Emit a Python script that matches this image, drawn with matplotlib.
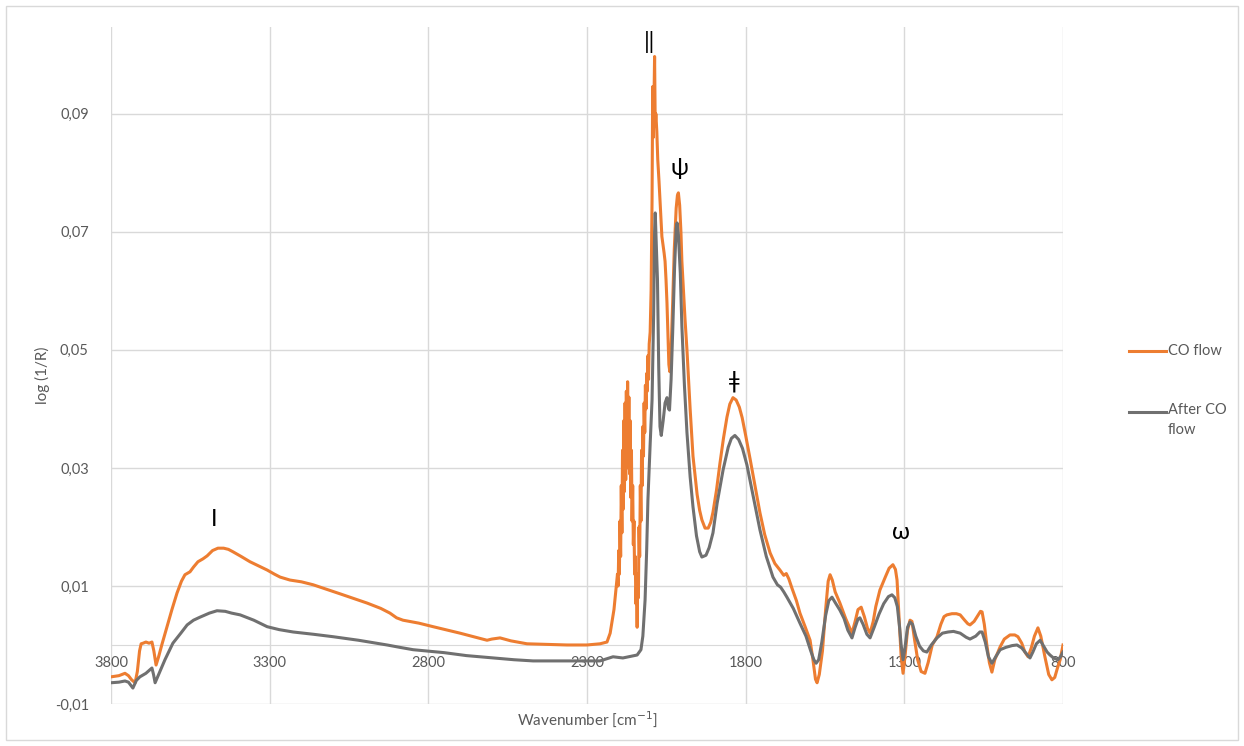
import matplotlib.pyplot as plt
from matplotlib.lines import Line2D
from matplotlib.patches import Rectangle
from matplotlib.ticker import FuncFormatter

plt.rcParams['font.family'] = ['Lato', 'DejaVu Sans']

# CO flow spectrum
wn_co = [3800, 3775, 3756, 3745, 3735, 3724, 3717, 3710, 3705, 3699, 3690, 3680, 3671,
         3665, 3658, 3650, 3640, 3624, 3608, 3592, 3578, 3567, 3551, 3540, 3526, 3510,
         3497, 3480, 3463, 3445, 3430, 3416, 3390, 3362, 3335, 3308, 3285, 3267, 3236,
         3200, 3163, 3080, 2993, 2950, 2921, 2900, 2880, 2830, 2785, 2700, 2615, 2600,
         2574, 2540, 2489, 2420, 2363, 2300, 2259, 2237, 2227, 2215,
         # gas phase CO rotational band
         2204, 2202, 2200, 2198, 2196, 2194, 2192, 2190, 2188, 2186, 2184, 2182, 2180,
         2178, 2176, 2174, 2172, 2170, 2168, 2166, 2164, 2162, 2160, 2158, 2156, 2154,
         2152, 2150, 2148, 2146, 2144, 2142, 2140, 2138, 2136, 2134, 2132, 2130, 2128,
         2126, 2124, 2122, 2120, 2118, 2116, 2114, 2112, 2110, 2108, 2106, 2104, 2101,
         2098, 2095, 2093, 2091, 2089, 2087, 2085, 2083, 2080, 2077, 2073, 2070, 2067,
         2064, 2061, 2057, 2054, 2051, 2048, 2045, 2042, 2039, 2035, 2030, 2025, 2019,
         2015, 2012, 2008, 2004, 2001, 1996, 1991, 1985, 1975, 1966, 1953, 1945, 1938,
         1928, 1918, 1910, 1903, 1892, 1881, 1870, 1859, 1850, 1840, 1830, 1820, 1811,
         1800, 1786, 1770, 1755, 1740, 1723, 1708, 1692, 1680, 1672, 1664, 1654, 1640,
         1629, 1612, 1597, 1588, 1580, 1575, 1568, 1558, 1548, 1540, 1534, 1527, 1518,
         1503, 1485, 1465, 1455, 1446, 1436, 1426, 1416, 1408, 1398, 1390, 1377, 1360,
         1348, 1336, 1328, 1323, 1316, 1310, 1304, 1298, 1290, 1282, 1276, 1268, 1258,
         1247, 1235, 1225, 1212, 1197, 1185, 1175, 1166, 1150, 1136, 1124, 1110, 1100,
         1093, 1080, 1068, 1060, 1055, 1048, 1040, 1032, 1024, 1015, 998, 985, 967, 952,
         942, 930, 920, 910, 900, 890, 879, 870, 857, 845, 835, 826, 818, 809, 800]
co_flow = [-0.0054, -0.0052, -0.0048, -0.0052, -0.0059, -0.0064, -0.0045, -0.0010, 0.0002,
           0.0003, 0.0005, 0.0003, 0.0005, -0.0010, -0.0034, -0.0020, 0.0000, 0.0030,
           0.0060, 0.0088, 0.0108, 0.0119, 0.0124, 0.0132, 0.0141, 0.0146, 0.0151, 0.0160,
           0.0164, 0.0164, 0.0162, 0.0158, 0.0150, 0.0141, 0.0134, 0.0127, 0.0120, 0.0115,
           0.0110, 0.0107, 0.0102, 0.0087, 0.0071, 0.0062, 0.0054, 0.0046, 0.0042, 0.0037,
           0.0031, 0.0020, 0.0008, 0.0010, 0.0012, 0.0007, 0.0002, 0.0001, 0.0000, 0.0000,
           0.0002, 0.0005, 0.0020, 0.0060,
           0.0120, 0.0100, 0.0160, 0.0120, 0.0210, 0.0150, 0.0270, 0.0190, 0.0330, 0.0230,
           0.0380, 0.0260, 0.0410, 0.0280, 0.0430, 0.0300, 0.0446, 0.0310, 0.0420, 0.0290,
           0.0380, 0.0250, 0.0330, 0.0210, 0.0270, 0.0170, 0.0210, 0.0120, 0.0150, 0.0070,
           0.0100, 0.0030, 0.0120, 0.0080, 0.0200, 0.0150, 0.0270, 0.0210, 0.0330, 0.0270,
           0.0370, 0.0320, 0.0410, 0.0360, 0.0440, 0.0400, 0.0460, 0.0430, 0.0490, 0.0450,
           0.0510, 0.0530,
           0.0600, 0.0754, 0.0946, 0.0860, 0.0920, 0.0997, 0.0880, 0.0900, 0.0870, 0.0822,
           0.0785, 0.0754, 0.0720, 0.0692, 0.0680, 0.0664, 0.0650, 0.0619, 0.0580, 0.0529,
           0.0475, 0.0463, 0.0500, 0.0580, 0.0670, 0.0740, 0.0762, 0.0766, 0.0745, 0.0700,
           0.0650, 0.0600, 0.0551, 0.0500, 0.0400, 0.0320, 0.0255, 0.0228, 0.0212, 0.0198,
           0.0198, 0.0208, 0.0225, 0.0262, 0.0308, 0.0350, 0.0386, 0.0408, 0.0419, 0.0415,
           0.0403, 0.0385, 0.0355, 0.0315, 0.0268, 0.0224, 0.0187, 0.0156, 0.0138, 0.0127,
           0.0118, 0.0121, 0.0112, 0.0096, 0.0075, 0.0054, 0.0030, 0.0008, -0.0025, -0.0058,
           -0.0064, -0.0050, -0.0010, 0.0060, 0.0108, 0.0119, 0.0110, 0.0090, 0.0071,
           0.0045, 0.0020, 0.0040, 0.0060, 0.0064, 0.0048, 0.0028, 0.0020, 0.0040, 0.0065,
           0.0093, 0.0115, 0.0130, 0.0136, 0.0128, 0.0110, 0.0040, -0.0020, -0.0048,
           -0.0020, 0.0025, 0.0042, 0.0040, 0.0010, -0.0025, -0.0045, -0.0048, -0.0030,
           0.0000, 0.0014, 0.0035, 0.0048, 0.0051, 0.0053, 0.0053, 0.0051, 0.0042, 0.0036,
           0.0034, 0.0040, 0.0050, 0.0057, 0.0056, 0.0035, 0.0000, -0.0030, -0.0046,
           -0.0025, -0.0003, 0.0010, 0.0017, 0.0017, 0.0014, 0.0003, -0.0012, -0.0020,
           -0.0005, 0.0015, 0.0029, 0.0015, -0.0020, -0.0050, -0.0059, -0.0055, -0.0040,
           -0.0025, 0.0000]

# After CO flow spectrum
wn_after = [3800, 3775, 3756, 3745, 3731, 3720, 3709, 3690, 3671, 3666, 3661, 3650, 3630,
            3605, 3580, 3560, 3540, 3520, 3490, 3466, 3440, 3420, 3393, 3350, 3308, 3270,
            3226, 3160, 3100, 3020, 2930, 2890, 2848, 2750, 2680, 2596, 2530, 2470, 2259,
            2218, 2187, 2142, 2130, 2124, 2117, 2112, 2108, 2101, 2095, 2090, 2087, 2085,
            2083, 2078, 2074, 2070, 2066, 2060, 2054, 2048, 2043, 2040, 2035, 2030, 2024,
            2019, 2016, 2012, 2006, 2001, 1993, 1985, 1975, 1966, 1955, 1945, 1938, 1925,
            1915, 1903, 1890, 1871, 1855, 1845, 1834, 1822, 1810, 1796, 1780, 1765, 1755,
            1735, 1714, 1700, 1690, 1680, 1670, 1650, 1629, 1610, 1595, 1585, 1578, 1570,
            1560, 1548, 1538, 1528, 1518, 1503, 1490, 1478, 1465, 1455, 1446, 1440, 1430,
            1418, 1408, 1395, 1380, 1365, 1350, 1339, 1330, 1322, 1315, 1310, 1304, 1298,
            1290, 1282, 1274, 1264, 1252, 1240, 1229, 1215, 1197, 1180, 1162, 1145, 1124,
            1105, 1093, 1075, 1062, 1055, 1045, 1035, 1024, 1012, 998, 980, 960, 945, 930,
            915, 904, 895, 884, 872, 860, 850, 841, 830, 816, 808, 800]
after_co = [-0.0064, -0.0063, -0.0061, -0.0063, -0.0073, -0.0060, -0.0054, -0.0048,
            -0.0039, -0.0050, -0.0064, -0.0050, -0.0025, 0.0003, 0.0020, 0.0034, 0.0042,
            0.0047, 0.0054, 0.0058, 0.0057, 0.0054, 0.0051, 0.0042, 0.0031, 0.0026, 0.0022,
            0.0018, 0.0014, 0.0008, 0.0000, -0.0004, -0.0008, -0.0013, -0.0018, -0.0022,
            -0.0025, -0.0027, -0.0027, -0.0020, -0.0022, -0.0017, -0.0008, 0.0015, 0.0076,
            0.0160, 0.0246, 0.0340, 0.0415, 0.0560, 0.0700, 0.0732, 0.0700, 0.0620, 0.0470,
            0.0370, 0.0355, 0.0380, 0.0410, 0.0419, 0.0400, 0.0398, 0.0450, 0.0530, 0.0640,
            0.0705, 0.0715, 0.0695, 0.0630, 0.0540, 0.0440, 0.0360, 0.0285, 0.0234, 0.0185,
            0.0158, 0.0149, 0.0152, 0.0165, 0.0190, 0.0240, 0.0297, 0.0335, 0.0350, 0.0355,
            0.0348, 0.0333, 0.0305, 0.0262, 0.0222, 0.0195, 0.0150, 0.0115, 0.0102, 0.0098,
            0.0090, 0.0081, 0.0062, 0.0037, 0.0015, -0.0010, -0.0025, -0.0031, -0.0025,
            0.0005, 0.0050, 0.0075, 0.0081, 0.0072, 0.0059, 0.0045, 0.0025, 0.0012, 0.0030,
            0.0044, 0.0046, 0.0035, 0.0018, 0.0012, 0.0030, 0.0052, 0.0070, 0.0082, 0.0085,
            0.0080, 0.0065, 0.0030, 0.0000, -0.0025, -0.0005, 0.0030, 0.0039, 0.0035,
            0.0015, -0.0002, -0.0010, -0.0012, 0.0000, 0.0012, 0.0020, 0.0022, 0.0023,
            0.0020, 0.0013, 0.0010, 0.0015, 0.0022, 0.0022, 0.0005, -0.0020, -0.0031,
            -0.0020, -0.0008, -0.0004, -0.0001, 0.0000, -0.0005, -0.0015, -0.0022, -0.0012,
            0.0002, 0.0008, -0.0003, -0.0012, -0.0017, -0.0022, -0.0025, -0.0020, -0.0012]

band_labels = ['I', '‖', 'ψ', 'ǂ', 'ω']
band_wn = [3475, 2105, 2010, 1837, 1310]
band_y = [0.0212, 0.1022, 0.0808, 0.0447, 0.0190]

x_ticks = [3800, 3300, 2800, 2300, 1800, 1300, 800]
y_ticks = [-0.01, 0.01, 0.03, 0.05, 0.07, 0.09]

fig = plt.figure(figsize=(12.44, 7.46), dpi=100)
ax = fig.add_axes([111 / 1244, 42 / 746, 952 / 1244, 677 / 746])

ax.plot(wn_co, co_flow, color='#ED7D31', lw=2.2, zorder=3)
ax.plot(wn_after, after_co, color='#707070', lw=2.2, zorder=4)

ax.set_xlim(3800, 800)
ax.set_ylim(-0.01, 0.1047)
ax.set_xticks(x_ticks)
ax.set_yticks(y_ticks)
ax.yaxis.set_major_formatter(FuncFormatter(lambda v, p: ('%.2f' % v).replace('.', ',')))
ax.grid(True, color='#d9d9d9', lw=1.0)
ax.set_axisbelow(True)

for s in ['top', 'right', 'left']:
    ax.spines[s].set_visible(False)
ax.spines['bottom'].set_position(('data', 0))
ax.spines['bottom'].set_color('#d9d9d9')
ax.tick_params(axis='both', length=0, labelsize=10.5, labelcolor='#595959')
ax.tick_params(axis='y', pad=16)
ax.tick_params(axis='x', pad=8)

for t, xv, yv in zip(band_labels, band_wn, band_y):
    ax.text(xv, yv, t, fontsize=17, ha='center', va='center', color='black')

fig.text(42 / 1244, 1 - 375 / 746, 'log (1/R)', rotation=90, ha='center', va='center',
         fontsize=11, color='#595959')
fig.text(587 / 1244, 1 - 719 / 746, 'Wavenumber [cm$^{-1}$]', ha='center', va='center',
         fontsize=11, color='#595959')

# legend
fig.add_artist(Line2D([1129 / 1244, 1166 / 1244], [1 - 351 / 746] * 2, color='#ED7D31', lw=2.2))
fig.add_artist(Line2D([1129 / 1244, 1166 / 1244], [1 - 412 / 746] * 2, color='#707070', lw=2.2))
fig.text(1168 / 1244, 1 - 351 / 746, 'CO flow', va='center', ha='left', fontsize=10.5, color='#595959')
fig.text(1168 / 1244, 1 - 403 / 746, 'After CO\nflow', va='top', ha='left', fontsize=10.5,
         color='#595959', linespacing=1.5)

fig.add_artist(Rectangle((6 / 1244, 6 / 746), 1232 / 1244, 734 / 746, transform=fig.transFigure,
                         fill=False, edgecolor='#d9d9d9', lw=1.0))

fig.savefig('out.png', dpi=100)
